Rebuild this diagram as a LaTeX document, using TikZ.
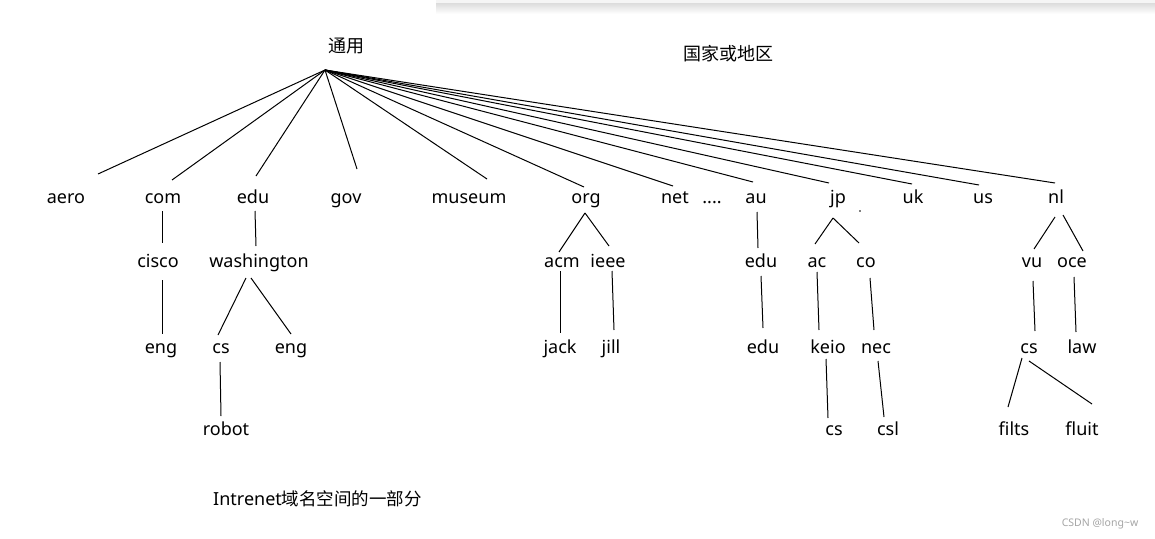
\documentclass[tikz,border=0pt]{standalone}
\usepackage{fontspec}
\setmainfont{Noto Sans}
\newfontfamily\cjk{Noto Sans CJK SC}
\usetikzlibrary{calc}
\tikzset{
  lbl/.style={anchor=base, inner sep=0pt, font=\fontsize{18}{20}\selectfont},
  cjklbl/.style={anchor=base, inner sep=0pt, font=\cjk\fontsize{18}{20}\selectfont},
  link/.style={draw=black, line width=1pt},
}
\begin{document}
\begin{tikzpicture}[x=1pt,y=-1pt]
\useasboundingbox (0,0) rectangle (1155,538);
\fill[white] (0,0) rectangle (1155,538);
% screenshot shadow at the top
\shade[top color=gray!30, bottom color=white] (436,2) rectangle (1155,14);
\fill[gray!8] (436,0) rectangle (1155,3);

% root labels
\node[cjklbl] (root) at (346,52) {通用};
\node[cjklbl] (country) at (728,60) {国家或地区};
\coordinate (hub) at (325,70);

% level 1
\node[lbl] (aero) at (66,203) {aero};
\node[lbl] (com) at (163,203) {com};
\node[lbl] (edu) at (253,203) {edu};
\node[lbl] (gov) at (346,203) {gov};
\node[lbl] (museum) at (469,203) {museum};
\node[lbl] (org) at (586,203) {org};
\node[lbl] (net) at (675,203) {net};
\node[lbl] (dots) at (712,203) {....};
\node[lbl] (au) at (756,203) {au};
\node[lbl] (jp) at (838,203) {jp};
\node[lbl] (uk) at (913,203) {uk};
\node[lbl] (us) at (983,203) {us};
\node[lbl] (nl) at (1056,203) {nl};

% level 2
\node[lbl] (cisco) at (158,267) {cisco};
\node[lbl] (washington) at (259,267) {washington};
\node[lbl] (acm) at (562,267) {acm};
\node[lbl] (ieee) at (608,267) {ieee};
\node[lbl] (auedu) at (761,267) {edu};
\node[lbl] (ac) at (817,267) {ac};
\node[lbl] (co) at (866,267) {co};
\node[lbl] (vu) at (1032,267) {vu};
\node[lbl] (oce) at (1072,267) {oce};

% level 3
\node[lbl] (ciscoeng) at (161,353) {eng};
\node[lbl] (wcs) at (221,353) {cs};
\node[lbl] (weng) at (291,353) {eng};
\node[lbl] (jack) at (560,353) {jack};
\node[lbl] (jill) at (611,353) {jill};
\node[lbl] (auedu2) at (763,353) {edu};
\node[lbl] (keio) at (828,353) {keio};
\node[lbl] (nec) at (876,353) {nec};
\node[lbl] (vucs) at (1029,353) {cs};
\node[lbl] (law) at (1082,353) {law};

% level 4
\node[lbl] (robot) at (226,435) {robot};
\node[lbl] (keiocs) at (834,435) {cs};
\node[lbl] (csl) at (888,435) {csl};
\node[lbl] (filts) at (1014,435) {filts};
\node[lbl] (fluit) at (1082,435) {fluit};

% stray dot
\fill (860,211) circle (0.9);

% caption and watermark
\node[anchor=base west, inner sep=0pt, font=\fontsize{18}{20}\selectfont] (caption) at (213,505) {Intrenet{\cjk\fontsize{17.5}{20}\selectfont 域名空间的一部分}};
\node[anchor=base, inner sep=0pt, text=gray!70, font=\fontsize{10.5}{12}\selectfont] (mark) at (1100,526) {CSDN @long\textasciitilde w};

% root connectors
\draw[link] (hub) -- ($(aero.base)+(32,-29)$);
\draw[link] (hub) -- ($(com.base)+(9,-23)$);
\draw[link] (hub) -- ($(edu.base)+(3,-27)$);
\draw[link] (hub) -- ($(gov.base)+(11,-34)$);
\draw[link] (hub) -- ($(museum.base)+(18,-24)$);
\draw[link] (hub) -- ($(org.base)+(-2,-16)$);
\draw[link] (hub) -- ($(net.base)+(-2,-17)$);
\draw[link] (hub) -- ($(au.base)+(-3,-21)$);
\draw[link] (hub) -- ($(jp.base)+(-9,-20)$);
\draw[link] (hub) -- ($(uk.base)+(-1,-19)$);
\draw[link] (hub) -- ($(us.base)+(-4,-18)$);
\draw[link] (hub) -- ($(nl.base)+(-1,-20)$);

% subtree connectors
\draw[link] ($(com.base)+(-1,8)$) -- ($(cisco.base)+(4,-24)$);
\draw[link] ($(edu.base)+(2,8)$) -- ($(washington.base)+(-3,-21)$);
\draw[link] ($(cisco.base)+(4,13)$) -- ($(ciscoeng.base)+(1,-19)$);
\draw[link] ($(washington.base)+(-13,11)$) -- ($(wcs.base)+(-3,-18)$);
\draw[link] ($(washington.base)+(-8,11)$) -- ($(weng.base)+(0,-19)$);
\draw[link] ($(wcs.base)+(-1,9)$) -- ($(robot.base)+(-5,-19)$);
\draw[link] ($(org.base)+(-1,10)$) -- ($(acm.base)+(-3,-15)$);
\draw[link] ($(org.base)+(-1,10)$) -- ($(ieee.base)+(1,-21)$);
\draw[link] ($(acm.base)+(-2,4)$) -- ($(jack.base)+(0,-20)$);
\draw[link] ($(ieee.base)+(4,4)$) -- ($(jill.base)+(3,-23)$);
\draw[link] ($(au.base)+(1,9)$) -- ($(auedu.base)+(-3,-19)$);
\draw[link] ($(auedu.base)+(0,9)$) -- ($(auedu2.base)+(0,-25)$);
\draw[link] ($(jp.base)+(-5,15)$) -- ($(ac.base)+(-2,-23)$);
\draw[link] ($(jp.base)+(-5,15)$) -- ($(co.base)+(-7,-24)$);
\draw[link] ($(ac.base)+(0,5)$) -- ($(keio.base)+(-9,-23)$);
\draw[link] ($(co.base)+(4,11)$) -- ($(nec.base)+(-2,-23)$);
\draw[link] ($(keio.base)+(-2,6)$) -- ($(keiocs.base)+(-6,-17)$);
\draw[link] ($(nec.base)+(2,8)$) -- ($(csl.base)+(-4,-18)$);
\draw[link] ($(nl.base)+(-1,14)$) -- ($(vu.base)+(2,-18)$);
\draw[link] ($(nl.base)+(7,12)$) -- ($(oce.base)+(11,-16)$);
\draw[link] ($(vu.base)+(1,14)$) -- ($(vucs.base)+(6,-22)$);
\draw[link] ($(oce.base)+(2,10)$) -- ($(law.base)+(-6,-21)$);
\draw[link] ($(vucs.base)+(-7,5)$) -- ($(filts.base)+(-6,-28)$);
\draw[link] ($(vucs.base)+(0,8)$) -- ($(fluit.base)+(10,-31)$);
\end{tikzpicture}
\end{document}
